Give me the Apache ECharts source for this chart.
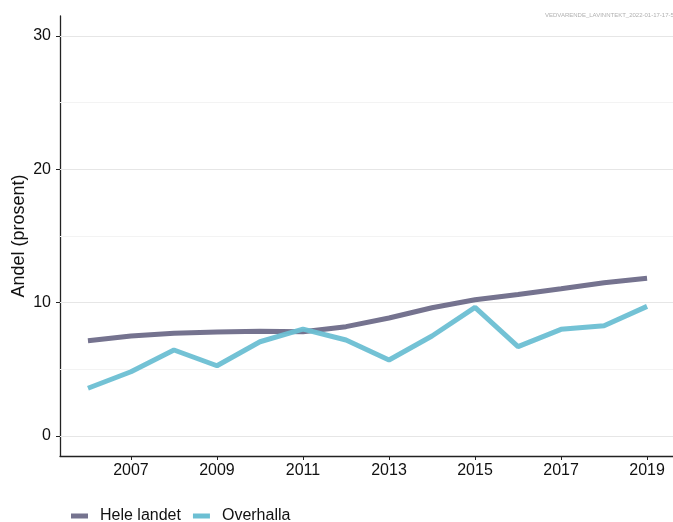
<!DOCTYPE html>
<html><head><meta charset="utf-8">
<script src="https://cdn.jsdelivr.net/npm/echarts@6/dist/echarts.min.js"></script>
<style>html,body{margin:0;padding:0;background:#fff}#c{width:673px;height:522px}</style>
</head><body><div id="c"></div>
<script>
var years = [2006,2007,2008,2009,2010,2011,2012,2013,2014,2015,2016,2017,2018,2019];
var heleLandet = [7.15,7.5,7.7,7.8,7.85,7.82,8.2,8.85,9.62,10.22,10.62,11.05,11.5,11.83];
var overhalla = [3.58,4.82,6.45,5.27,7.07,8.02,7.2,5.7,7.5,9.65,6.7,8.0,8.27,9.72];
var xTicks = [2007,2009,2011,2013,2015,2017,2019];
var yTicks = [0,10,20,30];
var yMinor = [5,15,25];
var seriesNames = ['Hele landet','Overhalla'];
var colors = ['#75738f','#6cbfd3'];
var stamp = 'VEDVARENDE_LAVINNTEKT_2022-01-17-17-50';

var chart = echarts.init(document.getElementById('c'));
var font = 'Liberation Sans, Arial, sans-serif';
var gridLines = yTicks.map(function(v){return {yAxis:v, lineStyle:{color:'#e6e6e6',width:1.2,type:'solid'}};})
  .concat(yMinor.map(function(v){return {yAxis:v, lineStyle:{color:'#f3f3f3',width:1,type:'solid'}};}));
chart.setOption({
  animation:false,
  textStyle:{fontFamily:font},
  graphic:[{type:'text', left:545, top:12, style:{text:stamp, fill:'#b0b0b0', font:'6px '+font}}],
  grid:{left:60, right:-2, top:16, bottom:66, containLabel:false, outerBoundsMode:'none'},
  legend:{top:508, left:71, padding:0, itemWidth:17, itemHeight:5, itemGap:12, icon:'rect',
    textStyle:{fontSize:16, color:'#111', fontFamily:font, padding:[0,0,0,7]}, data:seriesNames},
  xAxis:{type:'value', min:2005.35, max:2019.65,
    axisLine:{onZero:false, lineStyle:{color:'#222', width:1.3}},
    axisTick:{customValues:xTicks, length:4, lineStyle:{color:'#222'}},
    axisLabel:{customValues:xTicks, fontSize:16, color:'#111', margin:7, formatter:function(v){return String(v);}},
    splitLine:{show:false}},
  yAxis:{type:'value', min:-1.5, max:31.5,
    name:'Andel (prosent)', nameLocation:'middle', nameGap:32, nameRotate:90, nameMoveOverlap:false,
    nameTextStyle:{fontSize:18, color:'#111', fontFamily:font},
    axisLine:{show:true, onZero:false, lineStyle:{color:'#222', width:1.3}},
    axisTick:{show:true, customValues:yTicks, length:4, lineStyle:{color:'#222'}},
    axisLabel:{customValues:yTicks, fontSize:16, color:'#111', margin:9},
    splitLine:{show:false}},
  series:[
    {name:seriesNames[0], type:'line', data:years.map(function(y,i){return [y,heleLandet[i]];}),
     showSymbol:false, z:3, lineStyle:{width:5, color:colors[0]}, itemStyle:{color:colors[0]},
     markLine:{silent:true, symbol:'none', label:{show:false}, z:1, data:gridLines}},
    {name:seriesNames[1], type:'line', data:years.map(function(y,i){return [y,overhalla[i]];}),
     showSymbol:false, z:4, lineStyle:{width:5, color:colors[1], opacity:0.95}, itemStyle:{color:colors[1]}}
  ]
});
</script></body></html>
